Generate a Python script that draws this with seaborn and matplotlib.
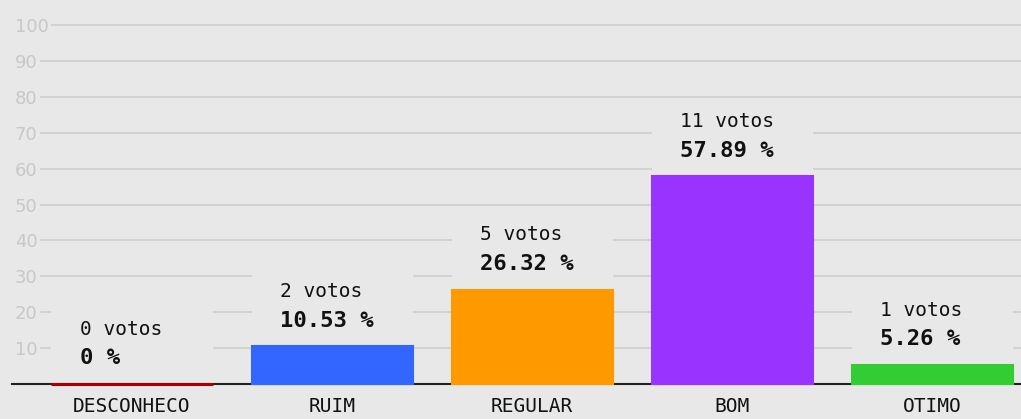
import matplotlib
matplotlib.use("Agg")
import matplotlib.pyplot as plt
from matplotlib.colors import to_hex
import pandas as pd
import seaborn as sns

# poll results
categories = ["DESCONHECO", "RUIM", "REGULAR", "BOM", "OTIMO"]
votes = [0, 2, 5, 11, 1]
percents = [0, 10.53, 26.32, 57.89, 5.26]
colors = ["#aa0000", "#3366ff", "#ff9900", "#9933ff", "#33cc33"]
yticks = [10, 20, 30, 40, 50, 60, 70, 80, 90, 100]

bg = "#e8e8e8"
grid = "#d2d2d2"

df = pd.DataFrame({"cat": categories, "pct": percents, "votes": votes})
# mask area above each bar where the labels sit
df["mask"] = df["pct"] + 21

sns.set_style("white")
plt.rcParams["font.family"] = ["DejaVu Sans Mono", "DejaVu Sans"]

fig = plt.figure(figsize=(10.21, 4.19), dpi=100, facecolor=bg)
ax = fig.add_axes([12 / 1021, 35 / 419, 1 - 12 / 1021, 384 / 419])
ax.set_facecolor(bg)

ax.set_axisbelow(True)
ax.grid(axis="y", color=grid, linewidth=1.5, solid_capstyle="butt")
ax.grid(axis="x", visible=False)

sns.barplot(data=df, x="cat", y="mask", color=bg, width=0.805,
            linewidth=0, ax=ax, zorder=1)
sns.barplot(data=df, x="cat", y="pct", hue="cat", palette=colors,
            width=0.805, legend=False, ax=ax, zorder=3, linewidth=1.5,
            saturation=1)
for patch in ax.patches:
    fc = to_hex(patch.get_facecolor())
    if fc != bg:
        patch.set_edgecolor(fc)
        patch.set_linewidth(2.2 if patch.get_height() == 0 else 1.5)
        patch.set_zorder(3)
        patch.set_clip_on(False)

for i, (v, p) in enumerate(zip(votes, percents)):
    ptxt = "0 %" if p == 0 else f"{p:.2f} %"
    ax.annotate(f"{v} votos", xy=(i - 0.26, p), xytext=(0, 39.5),
                textcoords="offset points", ha="left", va="center",
                fontsize=14, color="#111111", zorder=4)
    ax.annotate(ptxt, xy=(i - 0.26, p), xytext=(0, 18.5),
                textcoords="offset points", ha="left", va="center",
                fontsize=16, fontweight="bold", color="#111111", zorder=4)

ax.set_xlim(-0.6, 4.445)
ax.set_ylim(0, 107)
ax.set_yticks(yticks)
ax.set_yticklabels([str(t) for t in yticks], fontfamily="DejaVu Sans")
ax.tick_params(axis="y", length=0, pad=-2, labelsize=13, labelcolor="#c8c8c8")
for lbl in ax.get_yticklabels():
    lbl.set_horizontalalignment("left")
    lbl.set_bbox(dict(facecolor=bg, edgecolor="none", pad=2))
ax.tick_params(axis="x", length=0, pad=9, labelsize=14, labelcolor="#111111")

for s in ["top", "right", "left"]:
    ax.spines[s].set_visible(False)
ax.spines["bottom"].set_color("#222222")
ax.spines["bottom"].set_linewidth(1.5)
ax.spines["bottom"].set_zorder(2)

ax.set_xlabel("")
ax.set_ylabel("")

fig.savefig("out.png", dpi=100, facecolor=bg)
